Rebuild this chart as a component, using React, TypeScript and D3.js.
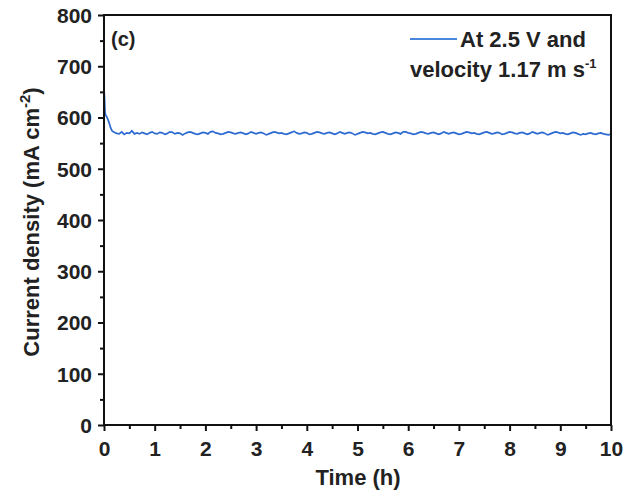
import React, { useEffect, useRef } from "react";
import * as d3 from "d3";

// time (h) and current density (mA cm^-2)
const startTimes = [0, 0.01, 0.02, 0.03, 0.05, 0.07, 0.1, 0.13, 0.16, 0.2, 0.25, 0.3, 0.35, 0.4, 0.45, 0.5, 0.55, 0.6];
const startValues = [655, 640, 612, 605, 602, 598, 590, 580, 574, 571, 569, 568, 572, 567, 570, 569, 574, 568];
const steadyStart = 0.65;
const steadyEnd = 10;
const steadyValues = [
  570, 568, 571, 569, 567, 570, 572, 569, 568, 571, 570, 567, 569, 572, 571, 568, 570, 569, 566, 569,
  571, 572, 570, 568, 567, 569, 571, 570, 568, 572, 573, 570, 569, 567, 568, 570, 572, 571, 569, 568,
  570, 571, 569, 567, 569, 572, 570, 568, 570, 571, 569, 566, 568, 570, 572, 571, 569, 570, 568, 567,
  569, 571, 573, 570, 568, 569, 571, 570, 567, 568, 570, 572, 571, 569, 568, 570, 571, 569, 567, 569,
  572, 570, 568, 570, 571, 569, 566, 568, 570, 572, 571, 569, 570, 568, 567, 569, 571, 572, 570, 568,
  567, 569, 571, 570, 568, 572, 572, 570, 569, 567, 568, 570, 572, 571, 569, 568, 570, 571, 569, 567,
  569, 572, 570, 568, 570, 571, 569, 567, 568, 570, 572, 571, 569, 570, 568, 567, 569, 571, 572, 570,
  568, 569, 571, 570, 567, 568, 570, 572, 571, 569, 568, 570, 571, 569, 567, 569, 572, 570, 568, 570,
  571, 569, 566, 568, 570, 572, 571, 569, 570, 568, 567, 569, 571, 570, 568, 566, 568, 567, 569, 570,
  568, 567, 569, 570, 568, 567, 566, 568,
];
const xTicks = [0, 1, 2, 3, 4, 5, 6, 7, 8, 9, 10];
const yTicks = [0, 100, 200, 300, 400, 500, 600, 700, 800];

const W = 628;
const H = 497;
const M = { left: 104, right: 611, top: 15, bottom: 425 };

export default function App() {
  const ref = useRef<SVGSVGElement>(null);

  useEffect(() => {
    const svg = d3.select(ref.current);
    svg.selectAll("*").remove();

    const x = d3.scaleLinear().domain([0, 10]).range([M.left, M.right]);
    const y = d3.scaleLinear().domain([0, 800]).range([M.bottom, M.top]);

    const data: [number, number][] = startTimes.map((t, i) => [t, startValues[i]]);
    const step = (steadyEnd - steadyStart) / (steadyValues.length - 1);
    steadyValues.forEach((v, i) => data.push([steadyStart + i * step, v]));

    const line = d3.line<[number, number]>().x((d) => x(d[0])).y((d) => y(d[1]));

    svg
      .append("path")
      .datum(data)
      .attr("fill", "none")
      .attr("stroke", "#2e6bd1")
      .attr("stroke-width", 1.7)
      .attr("d", line);

    // frame
    svg
      .append("rect")
      .attr("x", M.left)
      .attr("y", M.top)
      .attr("width", M.right - M.left)
      .attr("height", M.bottom - M.top)
      .attr("fill", "none")
      .attr("stroke", "#111")
      .attr("stroke-width", 2);

    const font = "'Liberation Sans', Arial, sans-serif";

    const xAxis = d3.axisBottom(x).tickValues(xTicks).tickSize(6).tickFormat((d) => String(d));
    const gx = svg.append("g").attr("transform", `translate(0,${M.bottom})`).call(xAxis);
    const xMinor = d3.axisBottom(x).tickValues(d3.range(0.5, 10, 1)).tickSize(4).tickFormat(() => "");
    const gxm = svg.append("g").attr("transform", `translate(0,${M.bottom})`).call(xMinor);

    const yAxis = d3.axisLeft(y).tickValues(yTicks).tickSize(6).tickFormat((d) => String(d));
    const gy = svg.append("g").attr("transform", `translate(${M.left},0)`).call(yAxis);
    const yMinor = d3.axisLeft(y).tickValues(d3.range(50, 800, 100)).tickSize(4).tickFormat(() => "");
    const gym = svg.append("g").attr("transform", `translate(${M.left},0)`).call(yMinor);

    [gx, gxm, gy, gym].forEach((g) => {
      g.select(".domain").remove();
      g.selectAll("line").attr("stroke", "#111").attr("stroke-width", 2);
      g.selectAll("text")
        .attr("font-family", font)
        .attr("font-weight", "bold")
        .attr("font-size", 21)
        .attr("fill", "#222");
    });
    gx.selectAll("text").attr("dy", 0).attr("y", 31);
    gy.selectAll("text").attr("x", -12).attr("dy", "0.35em");

    svg
      .append("text")
      .attr("x", 358)
      .attr("y", 485)
      .attr("text-anchor", "middle")
      .attr("font-family", font)
      .attr("font-weight", "bold")
      .attr("font-size", 22)
      .attr("fill", "#222")
      .text("Time (h)");

    const yl = svg
      .append("text")
      .attr("transform", `translate(39,222) rotate(-90)`)
      .attr("text-anchor", "middle")
      .attr("font-family", font)
      .attr("font-weight", "bold")
      .attr("font-size", 22)
      .attr("fill", "#222");
    yl.append("tspan").text("Current density (mA cm");
    yl.append("tspan").attr("dy", -9).attr("font-size", 15).text("-2");
    yl.append("tspan").attr("dy", 9).text(")");

    svg
      .append("text")
      .attr("x", 111)
      .attr("y", 46)
      .attr("font-family", font)
      .attr("font-weight", "bold")
      .attr("font-size", 20)
      .attr("fill", "#222")
      .text("(c)");

    // legend
    svg
      .append("line")
      .attr("x1", 410)
      .attr("x2", 457)
      .attr("y1", 39)
      .attr("y2", 39)
      .attr("stroke", "#4a86dc")
      .attr("stroke-width", 2.2);
    svg
      .append("text")
      .attr("x", 460)
      .attr("y", 47)
      .attr("font-family", font)
      .attr("font-weight", "bold")
      .attr("font-size", 22)
      .attr("fill", "#222")
      .text("At 2.5 V and");
    const l2 = svg
      .append("text")
      .attr("x", 410)
      .attr("y", 77)
      .attr("font-family", font)
      .attr("font-weight", "bold")
      .attr("font-size", 22)
      .attr("fill", "#222");
    l2.append("tspan").text("velocity 1.17 m s");
    l2.append("tspan").attr("dy", -9).attr("font-size", 13).text("-1");
  }, []);

  return (
    <svg
      ref={ref}
      width={W}
      height={H}
      style={{ display: "block", position: "absolute", left: 0, top: 0, background: "#fff" }}
    />
  );
}
